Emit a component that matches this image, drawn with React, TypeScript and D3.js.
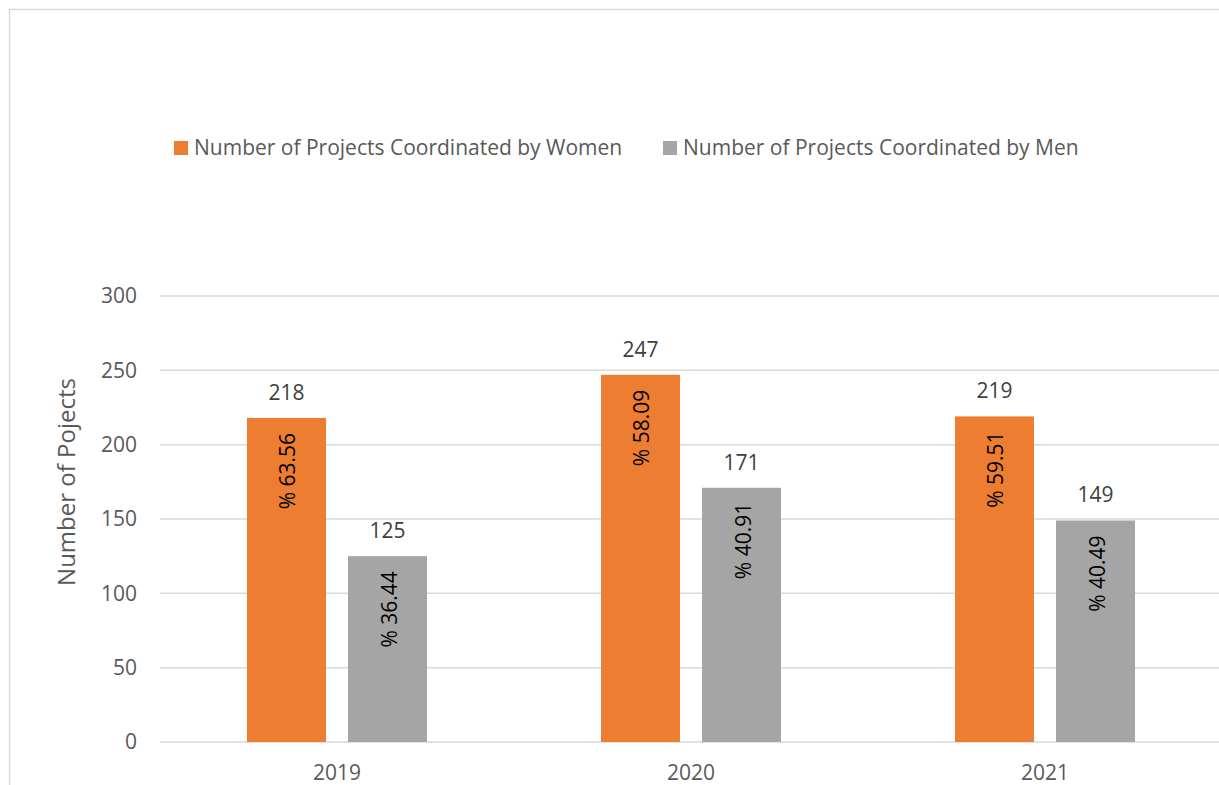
import React, { useEffect, useRef } from 'react';
import * as d3 from 'd3';

const years = ['2019', '2020', '2021'];
const women = [218, 247, 219];
const men = [125, 171, 149];
const womenPct = ['63.56', '58.09', '59.51'];
const menPct = ['36.44', '40.91', '40.49'];
const yTicks = [0, 50, 100, 150, 200, 250, 300];

const seriesNames = ['Number of Projects Coordinated by Women', 'Number of Projects Coordinated by Men'];
const colors = ['#ED7D31', '#A5A5A5'];

const FONT = '"Open Sans", sans-serif';

const App = () => {
  const ref = useRef<SVGSVGElement>(null);

  useEffect(() => {
    const svg = d3.select(ref.current);
    svg.selectAll('*').remove();

    const width = 1219;
    const height = 785;
    const margin = { top: 296, right: -3, bottom: 43, left: 160 };

    // chart border
    svg.append('rect')
      .attr('x', 9.5).attr('y', 9.5)
      .attr('width', width + 10).attr('height', height + 10)
      .attr('fill', 'white').attr('stroke', '#D9D9D9').attr('stroke-width', 1.5);

    const x = d3.scaleBand()
      .domain(years)
      .range([margin.left, width - margin.right]);

    const inner = d3.scaleBand()
      .domain(['w', 'm'])
      .range([0, 180])
      .paddingInner(0.218);

    const y = d3.scaleLinear()
      .domain([0, 300])
      .range([height - margin.bottom, margin.top]);

    // gridlines
    svg.append('g')
      .selectAll('line')
      .data(yTicks)
      .join('line')
      .attr('x1', margin.left).attr('x2', width)
      .attr('y1', d => y(d)).attr('y2', d => y(d))
      .attr('stroke', '#D9D9D9').attr('stroke-width', 1.5);

    // y tick labels
    svg.append('g')
      .selectAll('text')
      .data(yTicks)
      .join('text')
      .attr('x', 137).attr('y', d => y(d))
      .attr('dy', '0.35em')
      .attr('text-anchor', 'end')
      .style('font-family', FONT).style('font-size', '21px')
      .attr('fill', '#595959')
      .text(d => d);

    // y title
    svg.append('text')
      .attr('transform', `translate(75, 482) rotate(-90)`)
      .attr('text-anchor', 'middle')
      .style('font-family', FONT).style('font-size', '24px')
      .attr('fill', '#595959')
      .text('Number of Pojects');

    // x labels
    svg.append('g')
      .selectAll('text')
      .data(years)
      .join('text')
      .attr('x', d => x(d)! + x.bandwidth() / 2)
      .attr('y', 780)
      .attr('text-anchor', 'middle')
      .style('font-family', FONT).style('font-size', '21px')
      .attr('fill', '#595959')
      .text(d => d);

    const groups = years.map((yr, i) => ({
      yr,
      bars: [
        { key: 'w', value: women[i], pct: womenPct[i], color: colors[0] },
        { key: 'm', value: men[i], pct: menPct[i], color: colors[1] },
      ],
    }));

    const g = svg.append('g')
      .selectAll('g')
      .data(groups)
      .join('g')
      .attr('transform', d => `translate(${x(d.yr)! + x.bandwidth() / 2 - 90},0)`);

    g.selectAll('rect')
      .data(d => d.bars)
      .join('rect')
      .attr('x', d => inner(d.key)!)
      .attr('y', d => y(d.value))
      .attr('width', inner.bandwidth())
      .attr('height', d => y(0) - y(d.value))
      .attr('fill', d => d.color);

    g.selectAll('text.val')
      .data(d => d.bars)
      .join('text')
      .attr('class', 'val')
      .attr('x', d => inner(d.key)! + inner.bandwidth() / 2)
      .attr('y', d => y(d.value) - 18)
      .attr('text-anchor', 'middle')
      .style('font-family', FONT).style('font-size', '21px')
      .attr('fill', '#404040')
      .text(d => d.value);

    g.selectAll('text.pct')
      .data(d => d.bars)
      .join('text')
      .attr('class', 'pct')
      .attr('transform', d => `translate(${inner(d.key)! + inner.bandwidth() / 2 + 9}, ${y(d.value) + 15}) rotate(-90)`)
      .attr('text-anchor', 'end')
      .style('font-family', FONT).style('font-size', '21px')
      .attr('fill', '#000')
      .text(d => `% ${d.pct}`);

    // legend
    const legendX = [174, 663];
    const legend = svg.append('g')
      .selectAll('g')
      .data(seriesNames)
      .join('g')
      .attr('transform', (d, i) => `translate(${legendX[i]}, 141)`);

    legend.append('rect')
      .attr('width', 14).attr('height', 14)
      .attr('fill', (d, i) => colors[i]);

    legend.append('text')
      .attr('x', 20).attr('y', 14)
      .style('font-family', FONT).style('font-size', '21px')
      .attr('fill', '#595959')
      .text(d => d);
  }, []);

  return (
    <svg
      ref={ref}
      width={1219}
      height={785}
      style={{ position: 'absolute', left: 0, top: 0, display: 'block' }}
    />
  );
};

export default App;
